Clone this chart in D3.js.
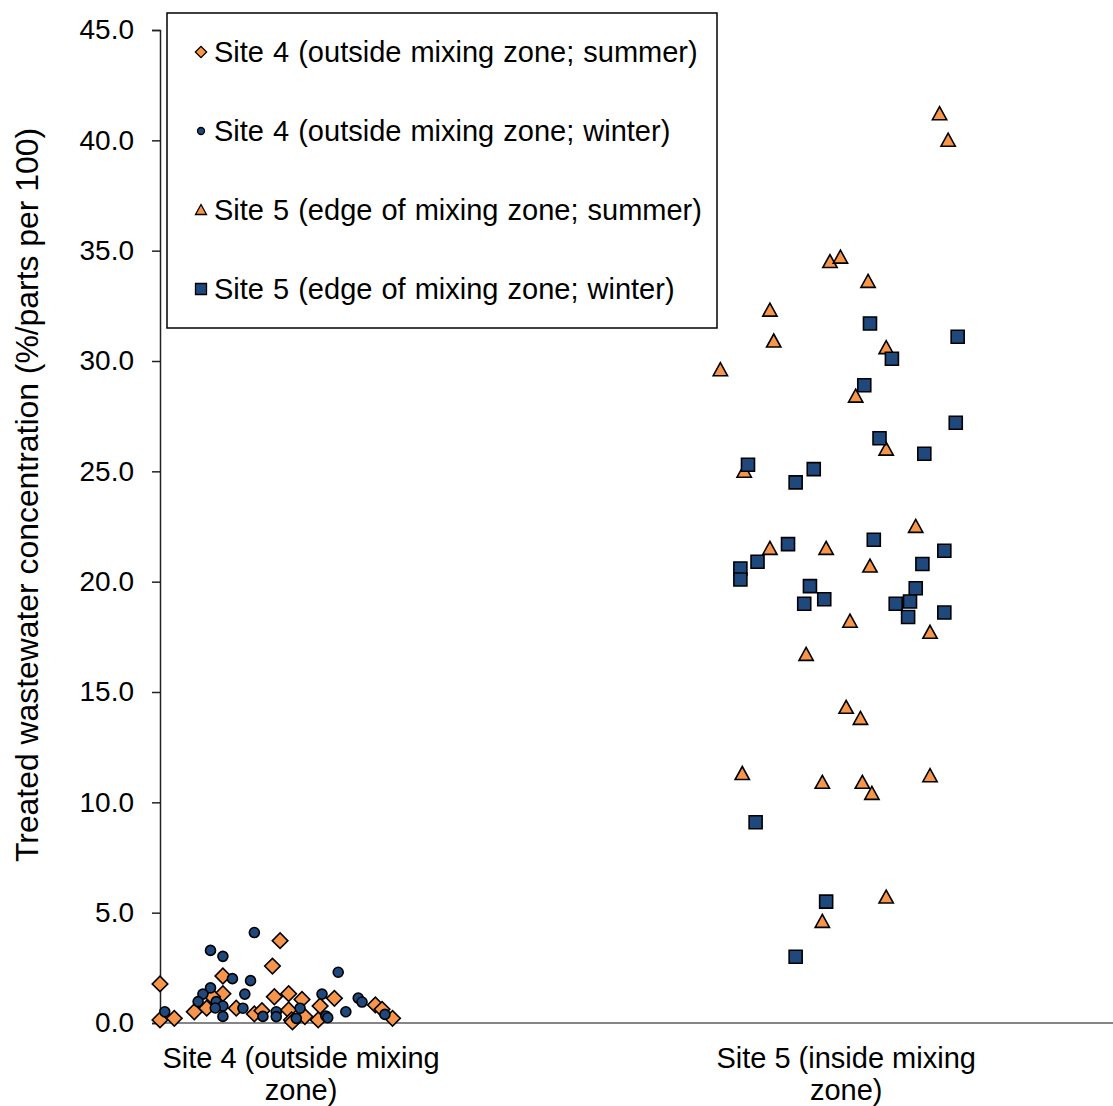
<!DOCTYPE html>
<html>
<head>
<meta charset="utf-8">
<script src="https://cdn.jsdelivr.net/npm/d3@7"></script>
<style>
  body { margin: 0; background: #fff; }
  svg { display: block; font-family: Arial, "Liberation Sans", sans-serif; }
</style>
</head>
<body>
<svg id="chart" width="1113" height="1106"></svg>
<script>
// jitter positions (x) and concentrations (y)
const site4SummerX = [1.26, 1.18, 0.00, 0.66, 0.66, 0.55, 1.20, 1.35, 1.49, 1.83, 1.68, 0.49, 0.36, 0.80, 0.99, 1.07, 1.35, 1.52, 1.66, 1.38, 1.39, 0.00, 0.15, 2.26, 2.33, 2.44];
const site4SummerY = [3.73, 2.58, 1.77, 2.13, 1.33, 1.19, 1.19, 1.33, 1.07, 1.12, 0.77, 0.67, 0.51, 0.67, 0.41, 0.56, 0.59, 0.29, 0.14, 0.14, 0.05, 0.14, 0.21, 0.82, 0.62, 0.21];

const site4WinterX = [0.99, 0.53, 0.66, 0.76, 0.95, 1.87, 0.53, 0.45, 0.89, 0.40, 0.59, 0.66, 0.58, 0.05, 0.66, 0.87, 1.08, 1.22, 1.22, 1.43, 1.47, 1.70, 1.74, 1.76, 1.95, 2.08, 2.12, 2.36];
const site4WinterY = [4.10, 3.29, 3.02, 2.01, 1.92, 2.30, 1.59, 1.31, 1.31, 0.97, 0.97, 0.77, 0.68, 0.51, 0.30, 0.67, 0.30, 0.51, 0.29, 0.21, 0.67, 1.31, 0.32, 0.24, 0.51, 1.13, 0.95, 0.39];

const site5SummerX = [8.18, 8.27, 7.03, 7.14, 7.43, 6.40, 6.44, 7.62, 5.88, 7.30, 7.62, 6.13, 7.93, 6.40, 6.99, 7.45, 7.24, 8.08, 6.78, 7.20, 7.35, 6.11, 6.95, 7.37, 7.47, 8.08, 7.62, 6.95];
const site5SummerY = [41.2, 40.0, 34.5, 34.7, 33.6, 32.3, 30.9, 30.6, 29.6, 28.4, 26.0, 25.0, 22.5, 21.5, 21.5, 20.7, 18.2, 17.7, 16.7, 14.3, 13.8, 11.3, 10.9, 10.9, 10.4, 11.2, 5.7, 4.6];

const site5WinterX = [7.45, 8.37, 7.68, 7.39, 8.35, 7.55, 8.02, 6.17, 6.86, 6.67, 7.49, 6.59, 8.23, 6.27, 6.09, 6.09, 8.00, 6.82, 7.93, 6.97, 6.76, 7.72, 7.87, 7.85, 8.23, 6.25, 6.99, 6.67];
const site5WinterY = [31.7, 31.1, 30.1, 28.9, 27.2, 26.5, 25.8, 25.3, 25.1, 24.5, 21.9, 21.7, 21.4, 20.9, 20.6, 20.1, 20.8, 19.8, 19.7, 19.2, 19.0, 19.0, 19.1, 18.4, 18.6, 9.1, 5.5, 3.0];

const categories = [["Site 4 (outside mixing", "zone)"], ["Site 5 (inside mixing", "zone)"]];
const categoryX = [1.48, 7.20];
const seriesNames = [
  "Site 4 (outside mixing zone; summer)",
  "Site 4 (outside mixing zone; winter)",
  "Site 5 (edge of mixing zone; summer)",
  "Site 5 (edge of mixing zone; winter)"
];
const yTicks = [0, 5, 10, 15, 20, 25, 30, 35, 40, 45];
const yTitle = "Treated wastewater concentration (%/parts per 100)";

const orange = "#F7964A", navy = "#1F497D";

const svg = d3.select("#chart");
const x = d3.scaleLinear().domain([0, 10]).range([160, 1113]);
const y = d3.scaleLinear().domain([0, 45]).range([1023, 30]);

// x baseline
svg.append("line")
  .attr("x1", x(0)).attr("x2", 1113)
  .attr("y1", y(0)).attr("y2", y(0))
  .attr("stroke", "#868686").attr("stroke-width", 2);

// y axis
const yAxis = svg.append("g")
  .attr("transform", `translate(${x(0)},0)`)
  .call(d3.axisLeft(y).tickValues(yTicks).tickFormat(d3.format(".1f")).tickSize(8).tickPadding(18));
yAxis.select(".domain").attr("stroke", "#222").attr("stroke-width", 1.5);
yAxis.selectAll(".tick line").attr("stroke", "#222").attr("stroke-width", 1.5);
yAxis.selectAll("text").attr("font-size", 28).attr("fill", "#000").attr("font-family", "Arial, 'Liberation Sans', sans-serif");

svg.append("text")
  .attr("transform", `translate(38,495) rotate(-90)`)
  .attr("text-anchor", "middle")
  .attr("font-size", 32)
  .attr("textLength", 734)
  .attr("lengthAdjust", "spacingAndGlyphs")
  .text(yTitle);

// category labels
categories.forEach((lines, i) => {
  const t = svg.append("text")
    .attr("text-anchor", "middle")
    .attr("font-size", 29);
  lines.forEach((ln, j) => {
    t.append("tspan").attr("x", x(categoryX[i])).attr("y", 1068 + j * 32).text(ln);
  });
});

// marker shapes
const sym = {
  diamond: s => d3.symbol(d3.symbolSquare, s * s)(),
  circle: s => d3.symbol(d3.symbolCircle, Math.PI * s * s / 4)(),
  triangle: s => `M0,${-s * 0.55}L${s * 0.55},${s * 0.45}L${-s * 0.55},${s * 0.45}Z`,
  square: s => d3.symbol(d3.symbolSquare, s * s)()
};

const series = [
  { xs: site4SummerX, ys: site4SummerY, shape: "diamond", size: 11, rot: 45, fill: orange },
  { xs: site4WinterX, ys: site4WinterY, shape: "circle", size: 10, rot: 0, fill: navy },
  { xs: site5SummerX, ys: site5SummerY, shape: "triangle", size: 13, rot: 0, fill: orange },
  { xs: site5WinterX, ys: site5WinterY, shape: "square", size: 13, rot: 0, fill: navy }
];

series.forEach(s => {
  const pts = s.xs.map((v, i) => ({ x: v, y: s.ys[i] }));
  svg.append("g").selectAll("path")
    .data(pts)
    .join("path")
    .attr("d", sym[s.shape](s.size))
    .attr("transform", d => `translate(${x(d.x)},${y(d.y)}) rotate(${s.rot})`)
    .attr("fill", s.fill)
    .attr("stroke", "#000")
    .attr("stroke-width", 1.6);
});

// legend
const legend = svg.append("g");
legend.append("rect")
  .attr("x", 167).attr("y", 13).attr("width", 550).attr("height", 315)
  .attr("fill", "#fff").attr("stroke", "#000").attr("stroke-width", 1.5);
const legendSize = [8, 7, 10, 11];
seriesNames.forEach((name, i) => {
  const ly = 52 + i * 79;
  const s = series[i];
  legend.append("path")
    .attr("d", sym[s.shape](legendSize[i]))
    .attr("transform", `translate(201,${ly}) rotate(${s.rot})`)
    .attr("fill", s.fill).attr("stroke", "#000").attr("stroke-width", 1.3);
  legend.append("text")
    .attr("x", 214).attr("y", ly).attr("dy", "0.35em")
    .attr("font-size", 29)
    .attr("word-spacing", 1)
    .text(name);
});
</script>
</body>
</html>
